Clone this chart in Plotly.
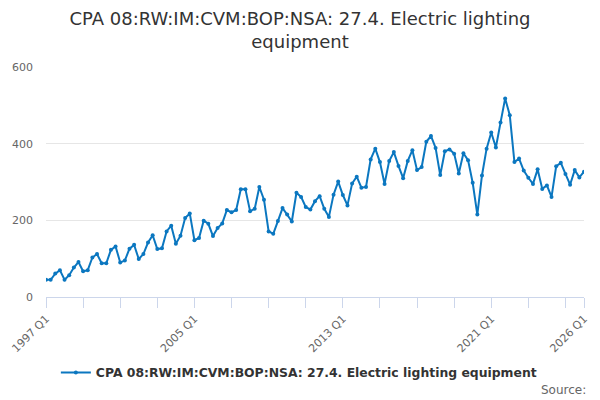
import plotly.graph_objects as go

# quarterly series, 1997 Q1 - 2026 Q1
years = list(range(1997, 2027))
quarters = [f"{y} Q{q}" for y in years for q in range(1, 5)][:117]

values = [45, 45, 61, 70, 45, 57, 77, 91, 67, 70,
          103, 112, 88, 88, 123, 132, 90, 95, 126, 136,
          99, 112, 142, 161, 125, 127, 171, 186, 139, 160,
          206, 218, 148, 154, 199, 191, 159, 180, 192, 227,
          221, 227, 281, 281, 224, 230, 287, 254, 171, 165,
          198, 232, 215, 197, 272, 261, 235, 228, 250, 263,
          230, 209, 267, 301, 266, 239, 296, 314, 285, 287,
          359, 387, 352, 295, 355, 378, 342, 310, 355, 383,
          331, 339, 405, 420, 389, 318, 380, 385, 374, 322,
          375, 357, 298, 215, 317, 387, 429, 390, 455, 518,
          474, 352, 361, 330, 311, 295, 333, 282, 291, 261,
          341, 350, 321, 293, 331, 312, 327]

series_name = "CPA 08:RW:IM:CVM:BOP:NSA: 27.4. Electric lighting equipment"
labelled = ["1997 Q1", "2005 Q1", "2013 Q1", "2021 Q1", "2026 Q1"]

tick_vals = quarters[::8] + [quarters[-1]]
tick_text = [q if q in labelled else "" for q in tick_vals]

fig = go.Figure()
fig.add_trace(go.Scatter(
    x=quarters, y=values, mode="lines+markers", name=series_name,
    line=dict(color="#0b77c0", width=2),
    marker=dict(color="#0b77c0", size=4),
))

fig.update_layout(
    width=600, height=400,
    paper_bgcolor="white", plot_bgcolor="white",
    font=dict(family="DejaVu Sans", color="#666666", size=11),
    margin=dict(l=46, r=16, t=67, b=103),
    title=dict(text="CPA 08:RW:IM:CVM:BOP:NSA: 27.4. Electric lighting<br>equipment",
               x=0.5, xanchor="center", y=0.938, yanchor="middle",
               font=dict(size=18, color="#333333")),
    showlegend=True,
    legend=dict(orientation="h", x=0.47, xanchor="center", y=-0.33, yanchor="middle",
                font=dict(size=12.4, color="#333333", weight="bold")),
    xaxis=dict(type="category", range=[0, len(quarters) - 1], automargin=False,
               tickmode="array", tickvals=tick_vals, ticktext=tick_text,
               tickangle=-45, ticks="outside", ticklen=10, tickcolor="#ccd6eb",
               showline=True, linecolor="#ccd6eb", showgrid=False),
    yaxis=dict(range=[0, 600], tickvals=[0, 200, 400, 600], automargin=False,
               ticklabelstandoff=12,
               gridcolor="#e6e6e6", zeroline=False, showline=False),
)

fig.add_annotation(text="Source:", xref="paper", yref="paper", x=1.008, y=-0.405,
                   xanchor="right", yanchor="middle", showarrow=False,
                   font=dict(size=12, color="#666666"))

fig.write_html("out.html", config={"displayModeBar": False},
               post_script="document.body.style.margin='0';")
